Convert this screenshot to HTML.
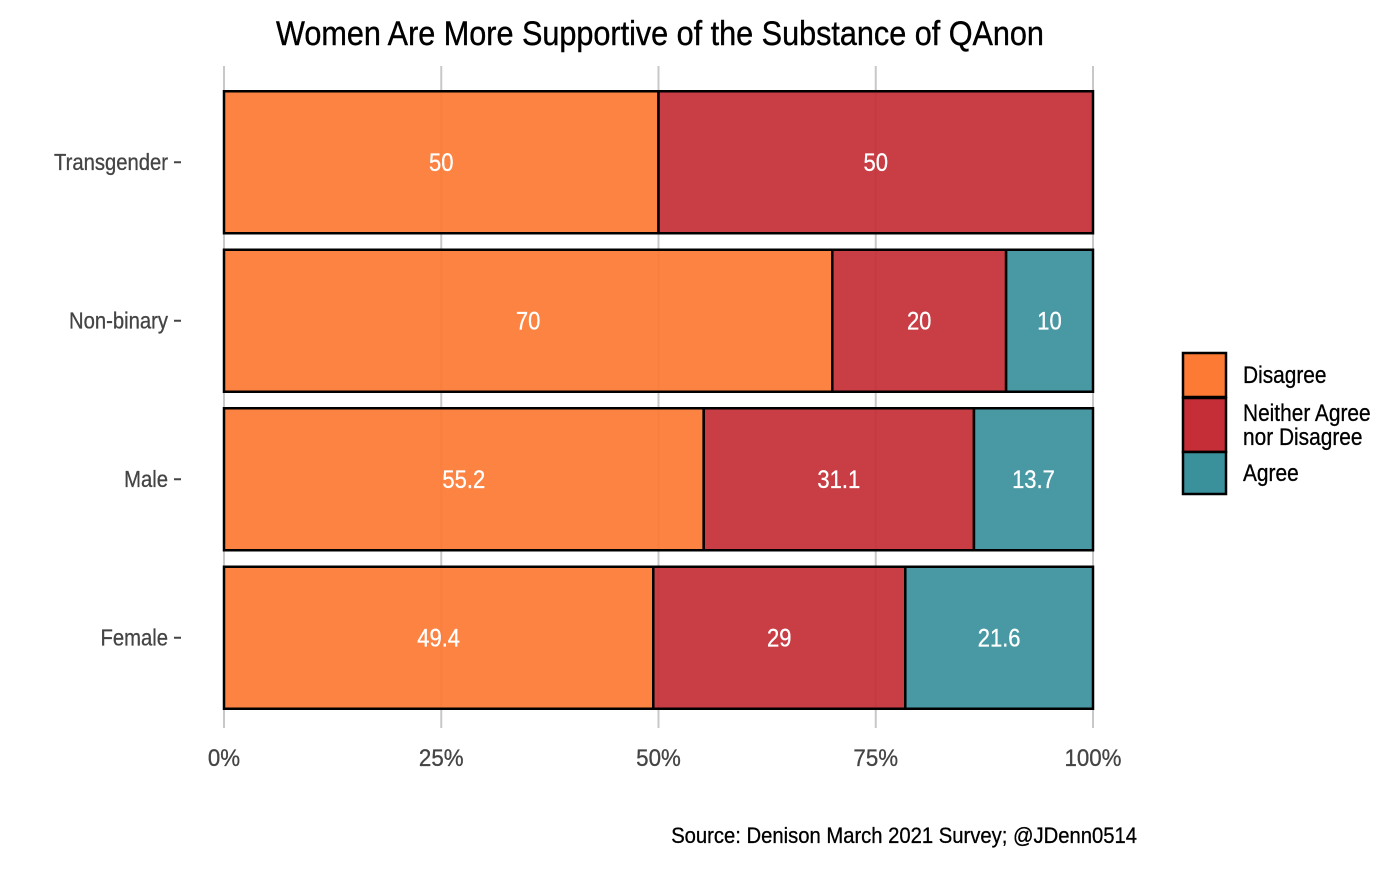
<!DOCTYPE html>
<html><head><meta charset="utf-8"><style>
body{margin:0;background:#fff;}
svg text{font-family:"Liberation Sans",sans-serif;}
</style></head><body>
<svg id="chart" width="1400" height="865" xmlns="http://www.w3.org/2000/svg">
<g id="grid"></g>
<g id="bars"></g>
<g id="axes"></g>
<g id="legend"></g>
<text x="660" y="45" text-anchor="middle" font-size="34" transform="translate(660,0) scale(0.9,1) translate(-660,0)" fill="#000" stroke="#000" stroke-width="0.4">Women Are More Supportive of the Substance of QAnon</text>
<text x="1137" y="843" text-anchor="end" font-size="22" transform="translate(1137,0) scale(0.92,1) translate(-1137,0)" fill="#000" stroke="#000" stroke-width="0.3">Source: Denison March 2021 Survey; @JDenn0514</text>
</svg>
<script>
const categories = ["Transgender","Non-binary","Male","Female"];
const disagree = [50,70,55.2,49.4];
const neither = [50,20,31.1,29];
const agree = [0,10,13.7,21.6];
const xTicks = [0,25,50,75,100];
const seriesNames = ["Disagree","Neither Agree\nnor Disagree","Agree"];
const colors = ["#fd7a34","#c52e36","#3a919c"];
const NS="http://www.w3.org/2000/svg";
const x0=224,x1=1093,yTop=83,band=158.5,barH=142;
const xs=v=>x0+(x1-x0)*v/100;
const yc=i=>yTop+band*i+band/2;
function mk(t,a,p){const e=document.createElementNS(NS,t);for(const k in a)e.setAttribute(k,a[k]);(p||document.getElementById('chart')).appendChild(e);return e;}
function cond(e,x,s){e.setAttribute('transform',`translate(${x},0) scale(${s},1) translate(${-x},0)`);}
const grid=document.getElementById('grid'),bars=document.getElementById('bars'),axes=document.getElementById('axes'),leg=document.getElementById('legend');
xTicks.forEach(t=>{const l=mk('line',{x1:xs(t),x2:xs(t),y1:66,y2:728,stroke:'#c8c8c8','stroke-width':2},grid);


const tx=mk('text',{x:xs(t),y:766,'text-anchor':'middle','font-size':24,fill:'#444',stroke:'#444','stroke-width':0.3},axes);tx.textContent=t+'%';cond(tx,xs(t),0.93);

});
const series=[disagree,neither,agree];
categories.forEach((c,i)=>{let acc=0;const y=yc(i)-barH/2;
series.forEach((s,k)=>{const v=s[i];if(!v)return;
const r=mk('rect',{x:xs(acc),y:y,width:xs(acc+v)-xs(acc),height:barH,fill:colors[k],'fill-opacity':0.93,stroke:'#000','stroke-width':2.5},bars);


const cx=(xs(acc)+xs(acc+v))/2;const t=mk('text',{x:cx,y:yc(i)+9,'text-anchor':'middle','font-size':25,fill:'#fff',stroke:'#fff','stroke-width':0.3},bars);t.textContent=v;cond(t,cx,0.88);


acc+=v;});
const lab=mk('text',{x:168,y:yc(i)+8,'text-anchor':'end','font-size':23,fill:'#444',stroke:'#444','stroke-width':0.3},axes);lab.textContent=c;cond(lab,168,0.88);


mk('line',{x1:174,x2:181,y1:yc(i),y2:yc(i),stroke:'#444','stroke-width':2},axes);});
const ly=[353,398,452],lh=[44,54,42];
seriesNames.forEach((n,k)=>{const r=mk('rect',{x:1183,y:ly[k],width:43,height:lh[k],fill:colors[k],stroke:'#000','stroke-width':2.5},leg);


const lines=n.split('\n');lines.forEach((ln,j)=>{const t=mk('text',{x:1243,y:ly[k]+lh[k]/2+8+(j-(lines.length-1)/2)*24,'font-size':24,fill:'#000',stroke:'#000','stroke-width':0.3},leg);t.textContent=ln;cond(t,1243,0.87);

});});
</script>
</body></html>
